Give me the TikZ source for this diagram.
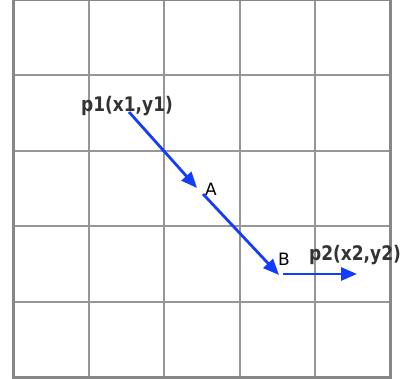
\documentclass[tikz,border=0pt]{standalone}
\usepackage{fontspec}
\setmainfont{DejaVu Sans}
\usetikzlibrary{arrows.meta}
\definecolor{arrowblue}{RGB}{20,60,255}
\definecolor{gridgray}{RGB}{150,150,150}
\definecolor{framegray}{RGB}{135,135,135}
\definecolor{labelgray}{RGB}{51,51,51}
\newcommand\tallbox[1]{\scalebox{1}[1.18]{#1}}
\begin{document}
\begin{tikzpicture}[x=1pt,y=-1pt,
  gridline/.style={draw=gridgray,line width=1.8pt},
  frameline/.style={draw=framegray,line width=3pt},
  vec/.style={draw=arrowblue,line width=2.8pt,-{Triangle[length=16pt,width=13pt]}},
  ptlabel/.style={font=\bfseries\fontsize{17}{19}\selectfont,text=labelgray,inner sep=0pt},
  letterlabel/.style={font=\fontsize{17}{19}\selectfont,inner sep=0pt}]
\useasboundingbox (0,0) rectangle (404,379);
\foreach \x in {89,164,240,315} \draw[gridline] (\x,0) -- (\x,377);
\foreach \y in {75,151,226,302} \draw[gridline] (13,\y) -- (390,\y);
\draw[frameline] (13,0) rectangle (390,377);
\coordinate (s1) at (129,112);
\coordinate (e1) at (197,188);
\coordinate (s2) at (203,194);
\coordinate (e2) at (279,275);
\coordinate (s3) at (283,274);
\coordinate (e3) at (357,274);
\draw[vec] (s1) -- (e1);
\draw[vec] (s2) -- (e2);
\draw[vec] (s3) -- (e3);
\node[ptlabel] (p1) at (127,106) {\tallbox{p1(x1,y1)}};
\node[letterlabel] (A) at (211,189) {A};
\node[letterlabel] (B) at (284,259) {B};
\node[ptlabel] (p2) at (355,255) {\tallbox{p2(x2,y2)}};
\end{tikzpicture}
\end{document}
